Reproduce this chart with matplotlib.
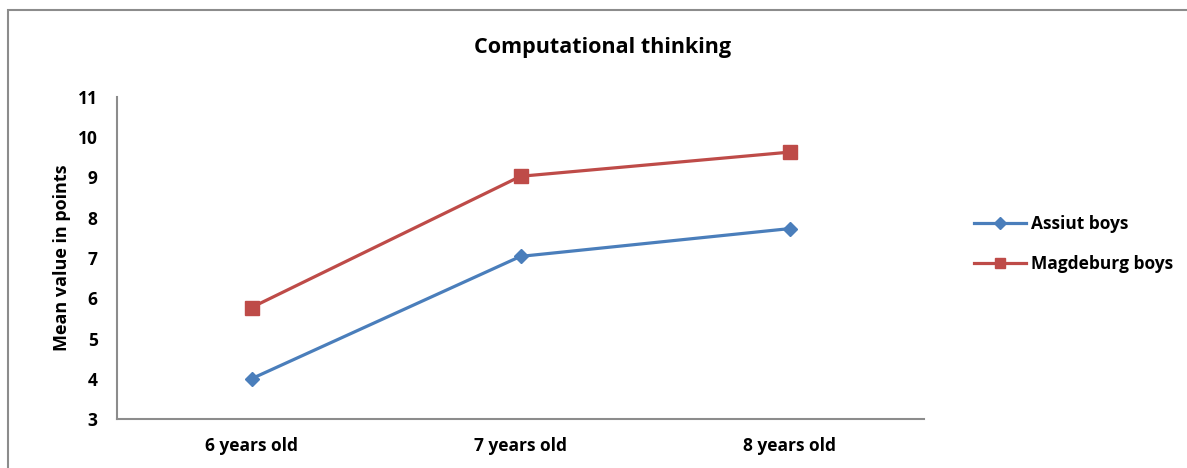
import matplotlib
matplotlib.use("Agg")
import matplotlib.pyplot as plt
from matplotlib.patches import Rectangle

plt.rcParams['font.family'] = ['Open Sans', 'DejaVu Sans']

categories = ["6 years old", "7 years old", "8 years old"]
assiut = [4.0, 7.04, 7.73]
magdeburg = [5.77, 9.03, 9.63]
yticks = [3, 4, 5, 6, 7, 8, 9, 10, 11]

W, H = 1187, 468
fig = plt.figure(figsize=(W / 100, H / 100), dpi=100)

# outer chart border (only top/left visible in the crop)
fig.patches.append(Rectangle((8 / W, -0.1), 1.2, (H - 10) / H + 0.1,
                             transform=fig.transFigure, fill=False,
                             edgecolor='#8c8c8c', linewidth=1.5))

ax = fig.add_axes([117 / W, 1 - 419 / H, 807 / W, 322 / H])
x = [0.5, 1.5, 2.5]
ax.plot(x, assiut, color='#4A7EBB', linewidth=2.3, marker='D', markersize=7.5,
        label='Assiut boys')
ax.plot(x, magdeburg, color='#BE4B48', linewidth=2.3, marker='s', markersize=10.5,
        label='Magdeburg boys')

ax.set_xlim(0, 3)
ax.set_ylim(3, 11)
ax.set_xticks(x)
ax.set_xticklabels(categories, fontsize=12.5, fontweight='bold')
ax.set_yticks(yticks)
ax.set_yticklabels([str(v) for v in yticks], fontsize=12.5, fontweight='bold')
ax.tick_params(axis='y', length=0, pad=14)
ax.tick_params(axis='x', length=0, pad=13)
for s in ['top', 'right']:
    ax.spines[s].set_visible(False)
for s in ['left', 'bottom']:
    ax.spines[s].set_color('#8c8c8c')
    ax.spines[s].set_linewidth(1.5)

ax.set_ylabel('Mean value in points', fontsize=13, fontweight='bold', labelpad=5)
fig.text(603 / W, 1 - 47 / H, 'Computational thinking', ha='center', va='center',
         fontsize=15.5, fontweight='bold')

leg = fig.legend(loc='center left', bbox_to_anchor=(958 / W, 1 - 244 / H),
                 frameon=False, prop={'size': 12.5, 'weight': 'bold'},
                 handlelength=3.0, handletextpad=0.3, labelspacing=1.3,
                 markerscale=0.75)

fig.savefig('out.png', dpi=100, facecolor='white')
